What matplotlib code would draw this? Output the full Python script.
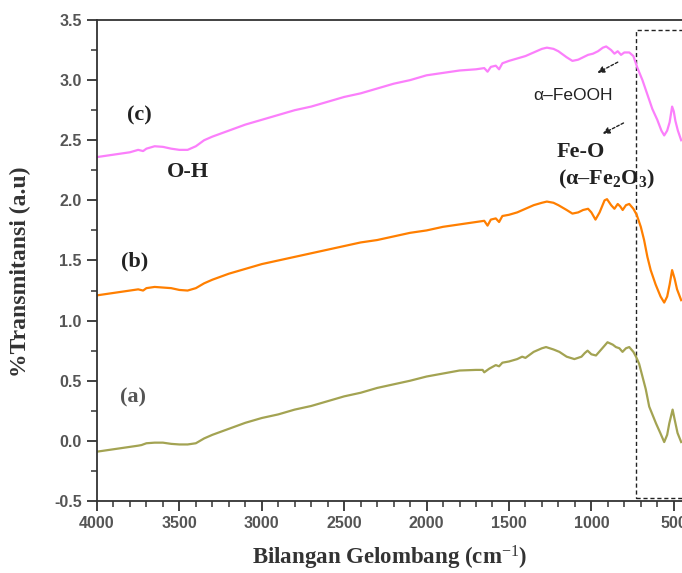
import matplotlib
matplotlib.use("Agg")
import matplotlib.pyplot as plt
from matplotlib.patches import Rectangle
from matplotlib.ticker import MultipleLocator

plt.rcParams["mathtext.fontset"] = "custom"
plt.rcParams["mathtext.rm"] = "Liberation Serif"
plt.rcParams["mathtext.it"] = "Liberation Serif:italic"
plt.rcParams["mathtext.bf"] = "Liberation Serif:bold"
plt.rcParams["axes.unicode_minus"] = False

# FTIR spectra: wavenumber (cm^-1) and offset transmittance (a.u.)
wn_a = [4000, 3900, 3800, 3750, 3730, 3700, 3650, 3600, 3550, 3500, 3450, 3400, 3350, 3300,
        3200, 3100, 3000, 2900, 2800, 2700, 2600, 2500, 2400, 2300, 2200, 2100, 2000, 1900,
        1800, 1700, 1660, 1650, 1620, 1580, 1560, 1540, 1500, 1450, 1420, 1400, 1350, 1300,
        1275, 1230, 1194, 1150, 1103, 1060, 1040, 1023, 1000, 972, 940, 902, 870, 851, 830,
        811, 790, 770, 745, 729, 710, 690, 670, 649, 608, 580, 558, 540, 527, 507, 495, 477, 455]
t_a = [-0.09, -0.07, -0.05, -0.04, -0.035, -0.02, -0.015, -0.015, -0.025, -0.03, -0.03, -0.02,
       0.02, 0.05, 0.10, 0.15, 0.19, 0.22, 0.26, 0.29, 0.33, 0.37, 0.40, 0.44, 0.47, 0.50, 0.535,
       0.56, 0.585, 0.59, 0.59, 0.57, 0.60, 0.63, 0.62, 0.65, 0.66, 0.68, 0.70, 0.69, 0.74, 0.77,
       0.78, 0.76, 0.74, 0.70, 0.68, 0.70, 0.73, 0.75, 0.72, 0.71, 0.76, 0.82, 0.80, 0.78, 0.77,
       0.74, 0.77, 0.78, 0.74, 0.70, 0.64, 0.535, 0.43, 0.285, 0.146, 0.06, -0.01, 0.05, 0.146,
       0.26, 0.18, 0.065, -0.01]

wn_b = [4000, 3900, 3800, 3750, 3720, 3700, 3650, 3600, 3550, 3500, 3450, 3400, 3350, 3300,
        3200, 3100, 3000, 2900, 2800, 2700, 2600, 2500, 2400, 2300, 2200, 2100, 2000, 1900,
        1800, 1700, 1650, 1630, 1610, 1580, 1560, 1540, 1500, 1450, 1400, 1350, 1300, 1270,
        1230, 1200, 1150, 1115, 1080, 1050, 1020, 1000, 975, 950, 920, 905, 880, 860, 840,
        825, 810, 790, 770, 745, 725, 700, 680, 660, 640, 610, 580, 558, 540, 525, 510, 495,
        480, 455]
t_b = [1.21, 1.23, 1.25, 1.26, 1.25, 1.27, 1.28, 1.275, 1.27, 1.255, 1.25, 1.27, 1.31, 1.34,
       1.39, 1.43, 1.47, 1.50, 1.53, 1.56, 1.59, 1.62, 1.65, 1.67, 1.70, 1.73, 1.75, 1.78, 1.80,
       1.82, 1.83, 1.79, 1.84, 1.85, 1.82, 1.87, 1.88, 1.90, 1.93, 1.96, 1.98, 1.99, 1.98, 1.96,
       1.92, 1.89, 1.90, 1.92, 1.93, 1.90, 1.84, 1.90, 2.00, 2.01, 1.96, 1.93, 1.97, 1.95, 1.92,
       1.96, 1.97, 1.93, 1.88, 1.78, 1.67, 1.53, 1.42, 1.30, 1.20, 1.15, 1.20, 1.30, 1.42, 1.35,
       1.26, 1.17]

wn_c = [4000, 3900, 3800, 3750, 3720, 3700, 3650, 3600, 3550, 3500, 3450, 3400, 3350, 3300,
        3200, 3100, 3000, 2900, 2800, 2700, 2600, 2500, 2400, 2300, 2200, 2100, 2000, 1900,
        1800, 1700, 1650, 1630, 1610, 1580, 1560, 1540, 1500, 1450, 1400, 1350, 1300, 1270,
        1230, 1200, 1150, 1115, 1080, 1050, 1020, 990, 960, 930, 910, 880, 860, 840, 820, 800,
        770, 745, 720, 690, 660, 630, 600, 575, 558, 540, 525, 510, 500, 490, 475, 455]
t_c = [2.36, 2.38, 2.40, 2.42, 2.41, 2.43, 2.45, 2.445, 2.43, 2.42, 2.42, 2.45, 2.50, 2.53,
       2.58, 2.63, 2.67, 2.71, 2.75, 2.78, 2.82, 2.86, 2.89, 2.93, 2.97, 3.00, 3.04, 3.06, 3.08,
       3.09, 3.10, 3.07, 3.11, 3.12, 3.09, 3.14, 3.16, 3.18, 3.20, 3.23, 3.26, 3.27, 3.26, 3.24,
       3.19, 3.16, 3.17, 3.19, 3.21, 3.22, 3.24, 3.27, 3.28, 3.25, 3.22, 3.24, 3.21, 3.23, 3.23,
       3.20, 3.10, 3.00, 2.88, 2.76, 2.67, 2.58, 2.54, 2.58, 2.65, 2.78, 2.74, 2.66, 2.58, 2.50]

serif = ["Liberation Serif", "DejaVu Serif"]
sans = ["Liberation Sans", "DejaVu Sans"]

fig = plt.figure(figsize=(6.82, 5.73), dpi=100)
ax = fig.add_axes([0.1422, 0.1257, 0.8578, 0.8394])

ax.plot(wn_a, t_a, color="#a3a352", lw=1.6)
ax.plot(wn_b, t_b, color="#ff7f00", lw=1.6)
ax.plot(wn_c, t_c, color="#fb7ffb", lw=1.6)

ax.set_xlim(4000, 450)
ax.set_ylim(-0.5, 3.5)

# region of the iron-oxide bands
ax.add_patch(Rectangle((729, -0.475), 400 - 729, 3.417 + 0.475, fill=False,
                       ls=(0, (3, 2)), lw=1.0, ec="#222222"))

ax.xaxis.set_major_locator(MultipleLocator(500))
ax.xaxis.set_minor_locator(MultipleLocator(100))
ax.yaxis.set_major_locator(MultipleLocator(0.5))
ax.yaxis.set_minor_locator(MultipleLocator(0.25))
ax.tick_params(which="major", direction="out", length=7, width=1.3, color="#333333",
               labelsize=11.5, labelcolor="#555555", pad=4)
ax.tick_params(which="minor", direction="out", length=4, width=1.1, color="#333333")
for lab in ax.get_xticklabels() + ax.get_yticklabels():
    lab.set_fontweight("bold")
    lab.set_family(sans)

ax.spines["right"].set_visible(False)
for s in ("left", "bottom", "top"):
    ax.spines[s].set_linewidth(1.3)
    ax.spines[s].set_color("#333333")

ax.set_ylabel("%Transmitansi (a.u)", family=serif, fontweight="bold", fontsize=17,
              color="#333333")
ax.yaxis.set_label_coords(-0.113, 0.477)
ax.set_xlabel("Bilangan Gelombang (cm$^{-1}$)", family=serif, fontweight="bold",
              fontsize=16.5, color="#333333", labelpad=9)

txt = dict(family=serif, fontweight="bold", fontsize=16, color="#222222",
           ha="center", va="center")
ax.text(3740, 2.71, "(c)", **txt)
ax.text(3770, 1.49, "(b)", **txt)
ax.text(3780, 0.36, "(a)", **{**txt, "color": "#555555"})
ax.text(3449, 2.236, "O-H", **txt)
ax.text(1063, 2.405, "Fe-O", **txt)
ax.text(905, 2.17, "(α–Fe$_{\\mathbf{2}}$O$_{\\mathbf{3}}$)", **txt)
ax.text(1110, 2.876, "α–FeOOH", family=sans, fontsize=12.5, color="#222222",
        ha="center", va="center")

arrow = dict(arrowstyle="-|>", ls=(0, (2, 1.5)), lw=1.0, color="#222222", mutation_scale=10)
ax.annotate("", xy=(978, 3.05), xytext=(825, 3.16), arrowprops=arrow)
ax.annotate("", xy=(946, 2.544), xytext=(790, 2.654), arrowprops=arrow)

fig.savefig("out.png", dpi=100)
